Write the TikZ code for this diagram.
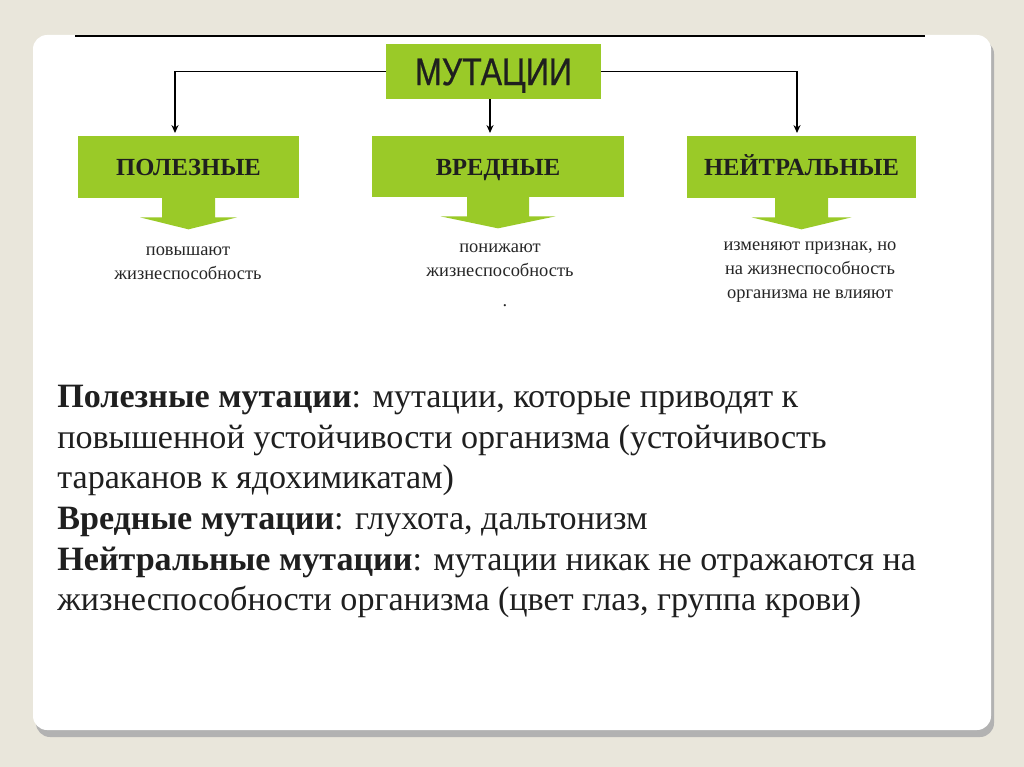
\documentclass[tikz,border=0pt]{standalone}
\usepackage{fontspec}
\setmainfont{Liberation Serif}
\newfontfamily\narrowsans[FakeStretch=0.83,FakeBold=0.6]{Liberation Sans}
\usetikzlibrary{arrows.meta}
\definecolor{leaf}{RGB}{154,202,40}
\definecolor{paper}{RGB}{233,230,219}

\begin{document}
\begin{tikzpicture}[x=0.02cm,y=-0.02cm]
    % card on the beige page
    \fill[paper] (0,0) rectangle (1024,767);
    \fill[black!30,rounded corners=8pt] (36,40) rectangle (994,737);
    \fill[white,rounded corners=8pt] (33,35) rectangle (991,730);
    \draw[line width=1.3pt] (75,36) -- (925,36);

    \begin{scope}[every node/.style={fill=leaf,inner sep=0pt,text=black!88,text height=10pt,text depth=0pt}]
        \node[minimum width=4.3cm,minimum height=1.1cm,text height=15.5pt,font=\narrowsans\fontsize{22pt}{22pt}\selectfont] (mut) at (493.5,71.5) {МУТАЦИИ};
        \node[minimum width=4.42cm,minimum height=1.24cm,font=\bfseries\fontsize{14pt}{14pt}\selectfont] (pol) at (188.5,167) {ПОЛЕЗНЫЕ};
        \node[minimum width=5.04cm,minimum height=1.22cm,font=\bfseries\fontsize{14pt}{14pt}\selectfont] (vr) at (498,166.5) {ВРЕДНЫЕ};
        \node[minimum width=4.58cm,minimum height=1.24cm,font=\bfseries\fontsize{14pt}{14pt}\selectfont] (ne) at (801.5,167) {НЕЙТРАЛЬНЫЕ};
    \end{scope}

    % green arrows under the boxes
    \fill[leaf] (pol.south) ++(-26.5,-1) -- ++(0,20) -- ++(-22,0) -- ++(48.5,12) -- ++(48.5,-12) -- ++(-22,0) -- ++(0,-20) -- cycle;
    \fill[leaf] (vr.south) ++(-31,-1) -- ++(0,20) -- ++(-26.5,0) -- ++(57.5,12) -- ++(57.5,-12) -- ++(-26.5,0) -- ++(0,-20) -- cycle;
    \fill[leaf] (ne.south) ++(-26.5,-1) -- ++(0,20) -- ++(-23.5,0) -- ++(50,12) -- ++(50,-12) -- ++(-23.5,0) -- ++(0,-20) -- cycle;

    \coordinate (t1) at (175,133);
    \coordinate (t2) at (490,133);
    \coordinate (t3) at (797,133);
    \begin{scope}[line width=0.85pt,-{Stealth[length=4.5pt,width=4pt]}]
        \draw (mut.west) -| (t1);
        \draw (mut.south -| t2) -- (t2);
        \draw (mut.east) -| (t3);
    \end{scope}

    \begin{scope}[every node/.style={align=center,text=black!85,inner sep=0pt,font=\fontsize{10.5pt}{13.5pt}\selectfont}]
        \node (pol-t) at (188,263) {повышают\\жизнеспособность};
        \node (vr-t) at (500,260) {понижают\\жизнеспособность};
        \node (dot) at (505,306) {.};
        \node (ne-t) at (810,272) {изменяют признак, но\\на жизнеспособность\\организма не влияют};
    \end{scope}

    \node[anchor=north west,align=left,inner sep=0pt,text=black!88,font=\fontsize{19.4pt}{23.1pt}\selectfont] (body) at (57,385) {\textbf{Полезные мутации}: мутации, которые приводят к\\
        повышенной устойчивости организма (устойчивость\\
        тараканов к ядохимикатам)\\
        \textbf{Вредные мутации}: глухота, дальтонизм\\
        \textbf{Нейтральные мутации}: мутации никак не отражаются на\\
        жизнеспособности организма (цвет глаз, группа крови)};
\end{tikzpicture}
\end{document}
